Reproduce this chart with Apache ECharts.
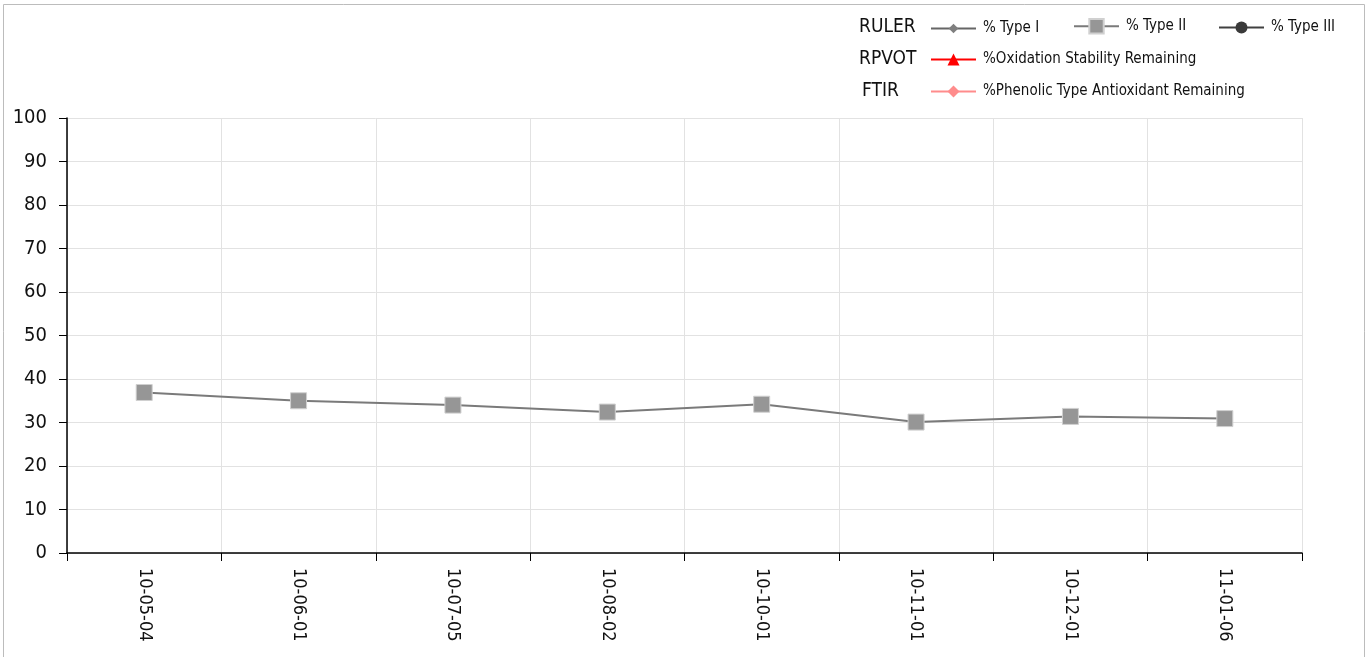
<!DOCTYPE html>
<html>
<head>
<meta charset="utf-8">
<script src="https://cdn.jsdelivr.net/npm/echarts@6/dist/echarts.min.js"></script>
<style>
html,body{margin:0;padding:0;background:#fff;}
#chart{width:1367px;height:657px;}
</style>
</head>
<body>
<div id="chart"></div>
<script>
const categories = ['10-05-04','10-06-01','10-07-05','10-08-02','10-10-01','10-11-01','10-12-01','11-01-06'];
const typeI = [];
const typeII = [36.9, 35.0, 34.0, 32.4, 34.2, 30.1, 31.4, 30.9];
const typeIII = [];
const oxidation = [];
const phenolic = [];
const yTicks = {min: 0, max: 100, interval: 10};

const FONT = "'Liberation Sans Narrow', 'DejaVu Sans Condensed', 'Arial Narrow', sans-serif";

const chart = echarts.init(document.getElementById('chart'));

function legendAt(name, left, top, h) {
  return {
    data: [name], left: left, top: top, orient: 'horizontal',
    itemWidth: 45, itemHeight: h, itemGap: 0, padding: 0,
    selectedMode: false,
    textStyle: {fontFamily: FONT, fontSize: 15, color: '#111', padding: [0,0,0,2]}
  };
}

chart.setOption({
  animation: false,
  textStyle: {fontFamily: FONT},
  graphic: [
    {type: 'rect', silent: true, shape: {x: 3.5, y: 4.5, width: 1361, height: 660},
     style: {fill: 'none', stroke: '#bcbcbc', lineWidth: 1}},
    {type: 'text', left: 859, top: 18, style: {text: 'RULER', font: '19px ' + FONT, fill: '#111'}},
    {type: 'text', left: 859, top: 50, style: {text: 'RPVOT', font: '19px ' + FONT, fill: '#111'}},
    {type: 'text', left: 862, top: 82, style: {text: 'FTIR', font: '19px ' + FONT, fill: '#111'}}
  ],
  legend: [
    legendAt('% Type I', 930, 21, 12),
    legendAt('% Type II', 1073, 18, 18),
    legendAt('% Type III', 1218, 20, 15),
    legendAt('%Oxidation Stability Remaining', 930, 52, 15),
    legendAt('%Phenolic Type Antioxidant Remaining', 930, 84, 15)
  ],
  grid: {left: 67, right: 65, top: 118, bottom: 104, containLabel: false},
  xAxis: {
    type: 'category', data: categories, boundaryGap: true,
    axisLine: {lineStyle: {color: '#000', width: 1.5}},
    axisTick: {show: true, length: 8, lineStyle: {color: '#000'}},
    axisLabel: {rotate: -90, fontSize: 18, color: '#111', margin: 15, fontFamily: FONT},
    splitLine: {show: true, lineStyle: {color: '#e2e2e2', width: 1}}
  },
  yAxis: {
    type: 'value', min: yTicks.min, max: yTicks.max, interval: yTicks.interval,
    axisLine: {show: true, lineStyle: {color: '#000', width: 1.5}},
    axisTick: {show: true, length: 8, lineStyle: {color: '#000'}},
    axisLabel: {fontSize: 20, color: '#111', margin: 20, fontFamily: FONT},
    splitLine: {show: true, lineStyle: {color: '#e2e2e2', width: 1}}
  },
  series: [
    {name: '% Type I', type: 'line', data: typeI, symbol: 'diamond', symbolSize: 9,
     itemStyle: {color: '#7f7f7f'}, lineStyle: {color: '#666666', width: 2}},
    {name: '% Type II', type: 'line', data: typeII, symbol: 'rect', symbolSize: 16,
     itemStyle: {color: '#969696', borderColor: '#d0d0d0', borderWidth: 1},
     lineStyle: {color: '#7a7a7a', width: 2}},
    {name: '% Type III', type: 'line', data: typeIII, symbol: 'circle', symbolSize: 12,
     itemStyle: {color: '#3a3a3a'}, lineStyle: {color: '#404040', width: 2}},
    {name: '%Oxidation Stability Remaining', type: 'line', data: oxidation, symbol: 'triangle', symbolSize: 12,
     itemStyle: {color: '#ff0000'}, lineStyle: {color: '#ff0000', width: 2}},
    {name: '%Phenolic Type Antioxidant Remaining', type: 'line', data: phenolic, symbol: 'diamond', symbolSize: 12,
     itemStyle: {color: '#ff8c8c'}, lineStyle: {color: '#ff8c8c', width: 2}}
  ]
});
</script>
</body>
</html>
